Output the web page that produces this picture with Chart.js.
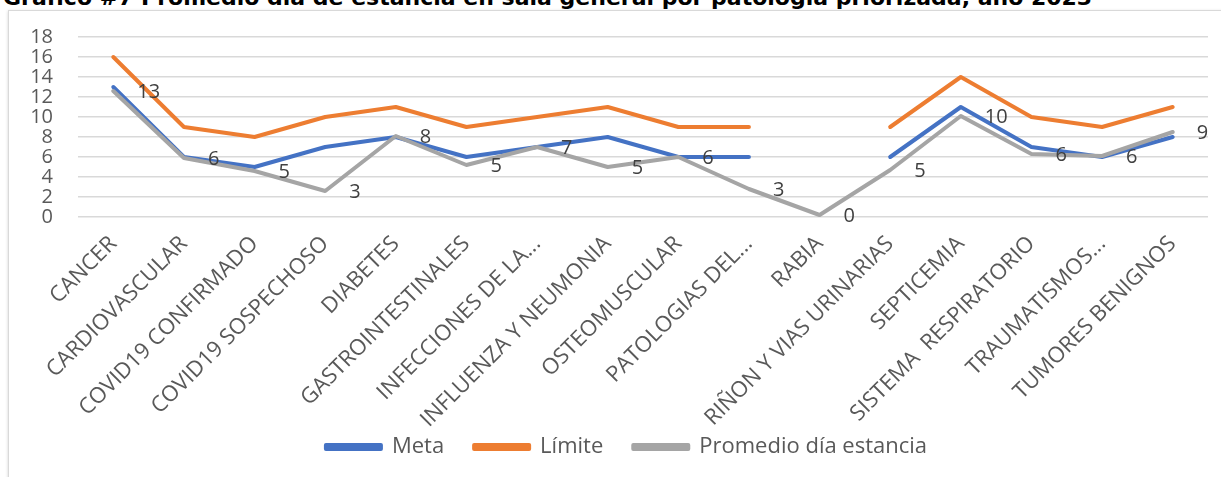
<!DOCTYPE html>
<html lang="es">
<head>
<meta charset="utf-8">
<title>Promedio día de estancia en sala general por patología priorizada, año 2023</title>
<script src="https://cdn.jsdelivr.net/npm/chart.js@4.4.1/dist/chart.umd.min.js"></script>
<style>
  html, body { margin: 0; padding: 0; background: #ffffff; overflow: hidden; }
  body { width: 1221px; height: 477px; position: relative; }
  #titulo {
    position: absolute; left: 3px; top: -13px; margin: 0;
    font: bold 22px/22px "DejaVu Sans", sans-serif; color: #000000;
    white-space: nowrap;
  }
  #marco {
    position: absolute; left: 8px; top: 10px; width: 1300px; height: 520px;
    border: 1px solid #d9d9d9; box-shadow: 0 1px 3px rgba(0,0,0,0.18);
    background: #ffffff;
  }
  #lienzo { position: absolute; left: 9px; top: 11px; width: 1212px; height: 500px; }
</style>
</head>
<body>
<h1 id="titulo">Gráfico #7 Promedio día de estancia en sala general por patología priorizada, año 2023</h1>
<div id="marco"></div>
<div id="lienzo"><canvas id="grafico" width="1212" height="500"></canvas></div>
<script>
// Patologías priorizadas (eje X)
const categorias = [
  "CANCER", "CARDIOVASCULAR", "COVID19 CONFIRMADO", "COVID19 SOSPECHOSO",
  "DIABETES", "GASTROINTESTINALES", "INFECCIONES DE LA...", "INFLUENZA Y NEUMONIA",
  "OSTEOMUSCULAR", "PATOLOGIAS DEL...", "RABIA", "RIÑON Y VIAS URINARIAS",
  "SEPTICEMIA", "SISTEMA  RESPIRATORIO", "TRAUMATISMOS...", "TUMORES BENIGNOS"
];

// Meta de días de estancia (sin valor para RABIA)
const meta = [13, 6, 5, 7, 8, 6, 7, 8, 6, 6, null, 6, 11, 7, 6, 8];

// Límite de días de estancia (sin valor para RABIA)
const limite = [16, 9, 8, 10, 11, 9, 10, 11, 9, 9, null, 9, 14, 10, 9, 11];

// Promedio día estancia observado
const promedio = [12.6, 5.9, 4.6, 2.6, 8.1, 5.2, 7.0, 5.0, 6.0, 2.8, 0.2, 4.7, 10.1, 6.3, 6.1, 8.5];

// Marcas del eje Y
const marcasY = [0, 2, 4, 6, 8, 10, 12, 14, 16, 18];

const gris = "#595959";

// Etiquetas de valor del promedio, a la derecha de cada punto
const etiquetasPromedio = {
  id: "etiquetasPromedio",
  afterDatasetsDraw(chart) {
    const idx = chart.data.datasets.findIndex(d => d.label === "Promedio día estancia");
    const metaSerie = chart.getDatasetMeta(idx);
    const ctx = chart.ctx;
    ctx.save();
    ctx.font = '20px "Open Sans", sans-serif';
    ctx.fillStyle = "#404040";
    ctx.textAlign = "left";
    ctx.textBaseline = "middle";
    metaSerie.data.forEach((pt, i) => {
      const v = chart.data.datasets[idx].data[i];
      if (v === null || v === undefined) return;
      ctx.fillText(String(Math.round(v)), pt.x + 24, pt.y + 1);
    });
    ctx.restore();
  }
};

// La leyenda se centra en todo el marco y se acerca a las etiquetas del eje X
const colocarLeyenda = {
  id: "colocarLeyenda",
  afterLayout(chart) {
    const lg = chart.legend;
    if (!lg) return;
    lg.left += 18;
    lg.right += 18;
    lg.top -= 43;
    lg.bottom -= 43;
  }
};

new Chart(document.getElementById("grafico"), {
  type: "line",
  data: {
    labels: categorias,
    datasets: [
      {
        label: "Meta", data: meta, order: 3,
        borderColor: "#4472C4", backgroundColor: "#4472C4",
        borderWidth: 4, pointRadius: 0, tension: 0, spanGaps: false,
        borderJoinStyle: "round", borderCapStyle: "round"
      },
      {
        label: "Límite", data: limite, order: 2,
        borderColor: "#ED7D31", backgroundColor: "#ED7D31",
        borderWidth: 4, pointRadius: 0, tension: 0, spanGaps: false,
        borderJoinStyle: "round", borderCapStyle: "round"
      },
      {
        label: "Promedio día estancia", data: promedio, order: 1,
        borderColor: "#A5A5A5", backgroundColor: "#A5A5A5",
        borderWidth: 4, pointRadius: 0, tension: 0,
        borderJoinStyle: "round", borderCapStyle: "round"
      }
    ]
  },
  options: {
    responsive: false,
    animation: false,
    devicePixelRatio: 1,
    layout: { padding: { top: 26, right: 13, bottom: 0, left: 0 } },
    plugins: {
      tooltip: { enabled: false },
      legend: {
        position: "bottom",
        labels: {
          sort: (a, b) => a.datasetIndex - b.datasetIndex,
          boxWidth: 55, boxHeight: 4, padding: 30,
          color: gris,
          font: { family: "Open Sans", size: 22 }
        }
      }
    },
    scales: {
      x: {
        offset: true,
        grid: { display: false, drawTicks: false },
        border: { display: false },
        ticks: {
          autoSkip: false, minRotation: 45, maxRotation: 45,
          padding: 14, color: gris,
          font: { family: "Open Sans", size: 22 }
        },
        afterFit(scale) { scale.height = 232; }
      },
      y: {
        min: 0, max: 18,
        afterBuildTicks(scale) { scale.ticks = marcasY.map(v => ({ value: v })); },
        grid: {
          color: "#d9d9d9", lineWidth: 1.5,
          drawTicks: true, tickLength: 25, tickColor: "rgba(0,0,0,0)"
        },
        border: { display: false },
        ticks: {
          autoSkip: false, padding: 0, color: gris,
          font: { family: "Open Sans", size: 20 }
        },
        afterFit(scale) { scale.width = 69; }
      }
    }
  },
  plugins: [etiquetasPromedio, colocarLeyenda]
});
</script>
</body>
</html>
